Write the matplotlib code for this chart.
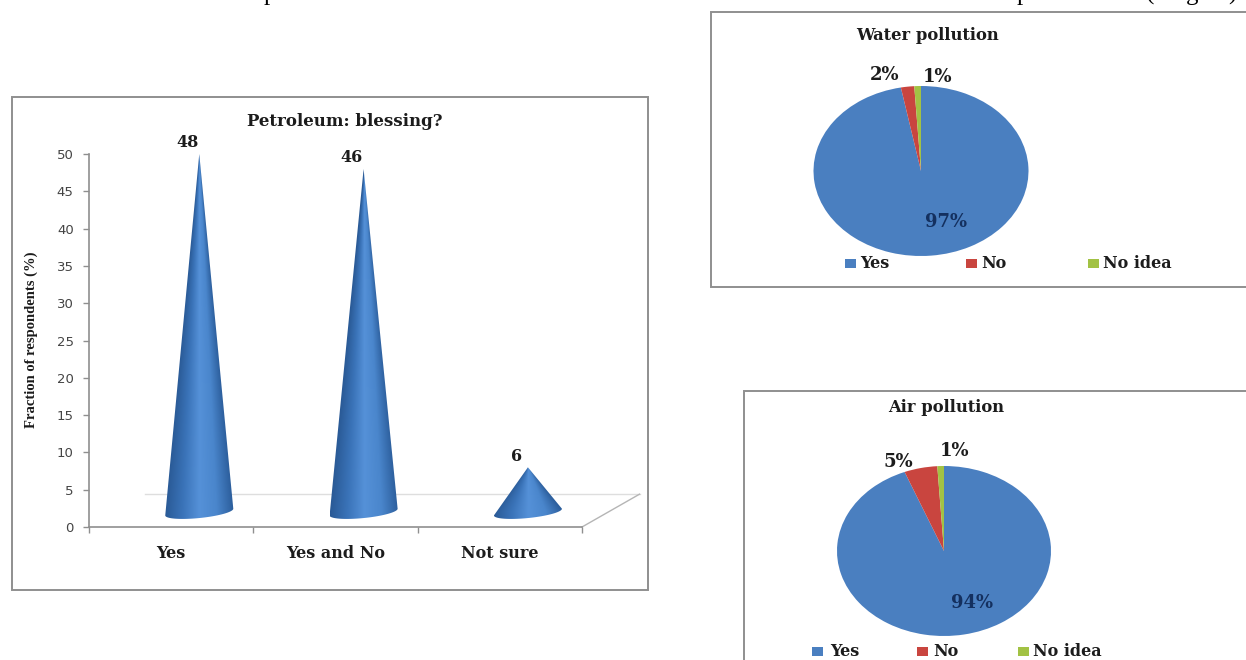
"""Survey figure: petroleum opinion cones with water and air pollution pies."""

import matplotlib

matplotlib.use("Agg")
import matplotlib.pyplot as plt
import numpy as np
from matplotlib.colors import LinearSegmentedColormap
from matplotlib.patches import Polygon, Rectangle

FIG_W, FIG_H = 1246, 660

categories = ["Yes", "Yes and No", "Not sure"]
blessing_values = [48, 46, 6]
y_ticks = [0, 5, 10, 15, 20, 25, 30, 35, 40, 45, 50]

pie_labels = ["Yes", "No", "No idea"]
water_values = [97, 2, 1]
air_values = [94, 5, 1]

PIE_COLORS = ["#4a7fc0", "#c9453f", "#a2c244"]
GREY = "#8f8f8f"
INK = "#1c1c1c"
SERIF_WIDE = "DejaVu Serif"
SERIF = "Liberation Serif"

cone_cmap = LinearSegmentedColormap.from_list(
    "cone", ["#2a5a96", "#3a73b8", "#5591d8", "#4a86cc", "#2c5e9c"]
)


def pixel_axes(fig, left, top, right, bottom):
    return fig.add_axes(
        [left / FIG_W, 1 - bottom / FIG_H, (right - left) / FIG_W, (bottom - top) / FIG_H]
    )


def draw_cone(ax, center, base, height, half_width, rim, tilt):
    t = np.linspace(np.pi, 2 * np.pi, 60)
    arc_x = center + half_width * np.cos(t)
    arc_y = base + rim * np.sin(t) + tilt * np.cos(t)
    outline = np.column_stack(
        [np.r_[center, arc_x], np.r_[base + height, arc_y]]
    )

    xs = np.linspace(center - half_width, center + half_width, 240)
    ys = np.linspace(base - rim - abs(tilt), base + height, 300)
    gx, gy = np.meshgrid(xs, ys)
    frac = np.clip((gy - base) / height, 0, 0.995)
    shade = np.clip((gx - center) / (half_width * (1 - frac)), -1, 1)
    image = ax.imshow(
        (shade + 1) / 2,
        extent=[xs[0], xs[-1], ys[0], ys[-1]],
        origin="lower",
        cmap=cone_cmap,
        vmin=0,
        vmax=1,
        aspect="auto",
        zorder=3,
    )
    patch = Polygon(outline, closed=True, facecolor="none", edgecolor="none", transform=ax.transData)
    ax.add_patch(patch)
    image.set_clip_path(patch)


def draw_pie(fig, values, center, rx, ry):
    ax = pixel_axes(fig, center[0] - rx, center[1] - ry, center[0] + rx, center[1] + ry)
    ax.pie(values, colors=PIE_COLORS, startangle=90, counterclock=False, radius=1.0)
    ax.set_aspect("auto")
    ax.set_xlim(-1, 1)
    ax.set_ylim(-1, 1)
    ax.patch.set_alpha(0)
    return ax


def draw_legend(page, xs, y):
    for (box_x, text_x), label, color in zip(xs, pie_labels, PIE_COLORS):
        page.add_patch(Rectangle((box_x - 5.5, y - 4.5), 11, 9, facecolor=color, edgecolor="none"))
        page.text(text_x, y, label, family=SERIF_WIDE, weight="bold", fontsize=11.5,
                  color=INK, ha="left", va="center")


fig = plt.figure(figsize=(FIG_W / 100, FIG_H / 100), dpi=100, facecolor="white")

# full-page layer in pixel coordinates for frames and free-standing text
page = fig.add_axes([0, 0, 1, 1])
page.set_xlim(0, FIG_W)
page.set_ylim(FIG_H, 0)
page.axis("off")

for x0, y0, x1, y1 in [(12, 97, 648, 590), (711, 12, 1252, 287), (744, 391, 1252, 668)]:
    page.add_patch(Rectangle((x0, y0), x1 - x0, y1 - y0, facecolor="white", edgecolor=GREY, linewidth=1.4))

# descenders of the running text cut off by the top edge
for x, s in [(270, "p"), (1023, "p"), (1150, "("), (1192, "g"), (1232, ")")]:
    page.text(x, 0, s, family=SERIF, fontsize=18, color="black", ha="center", va="baseline")

# cone chart
ax = pixel_axes(fig, 89, 154, 582, 527)
ax.set_xlim(0, len(categories))
ax.set_ylim(0, 50)
ax.patch.set_alpha(0)
for side in ["top", "right"]:
    ax.spines[side].set_visible(False)
for side in ["left", "bottom"]:
    ax.spines[side].set_color(GREY)
    ax.spines[side].set_linewidth(1.2)
ax.set_yticks(y_ticks)
ax.set_xticks(np.arange(len(categories) + 1))
ax.set_xticklabels([])
ax.tick_params(axis="both", which="major", color=GREY, length=4, width=1)
ax.tick_params(axis="y", labelsize=9.5, labelcolor="#444444", pad=7)
ax.set_xticks(np.arange(len(categories)) + 0.5, minor=True)
ax.set_xticklabels(categories, minor=True, family=SERIF_WIDE, weight="bold", fontsize=11.5, color=INK)
ax.tick_params(axis="x", which="minor", length=0, pad=13)

# floor of the 3-D plot: back edge and receding side
depth_x, depth_y = 0.171, 2.0
ax.plot([0.34, 3.35], [4.4, 4.4], color="#dedede", linewidth=1, clip_on=False, zorder=1)
ax.plot([3.0, 3.35], [0, 4.4], color="#b5b5b5", linewidth=1, clip_on=False, zorder=1)

for i, value in enumerate(blessing_values):
    cx = i + 0.5 + depth_x
    draw_cone(ax, cx, depth_y, value, 0.207, 0.8, 0.45)
    ax.annotate(str(value), (cx, depth_y + value), xytext=(-8.5, 8), textcoords="offset points",
                family=SERIF_WIDE, weight="bold", fontsize=11.5, color=INK, ha="center", va="center")
ax.set_xlim(0, len(categories))
ax.set_ylim(0, 50)

page.text(345, 121, "Petroleum: blessing?", family=SERIF_WIDE, weight="bold", fontsize=12, color=INK,
          ha="center", va="center")
page.text(31, 340, "Fraction of respondents (%)", family=SERIF, weight="bold", fontsize=10.5, color=INK,
          rotation=90, ha="center", va="center")

# water pollution pie
draw_pie(fig, water_values, (921, 171), 107.5, 85)
page.text(927, 35, "Water pollution", family=SERIF_WIDE, weight="bold", fontsize=11.8, color=INK,
          ha="center", va="center")
draw_legend(page, [(850, 860), (971, 981), (1093, 1103)], 263)

# air pollution pie
draw_pie(fig, air_values, (944, 551), 107, 85)
page.text(946, 407, "Air pollution", family=SERIF_WIDE, weight="bold", fontsize=11.8, color=INK,
          ha="center", va="center")
draw_legend(page, [(817, 830), (922, 933), (1023, 1033)], 651)

# percentage labels sit above the pie layers
top = fig.add_axes([0, 0, 1, 1])
top.set_xlim(0, FIG_W)
top.set_ylim(FIG_H, 0)
top.axis("off")
for value, x, y, color in [
    (water_values[0], 946, 222, "#14305f"),
    (water_values[1], 885, 75, INK),
    (water_values[2], 938, 77, INK),
    (air_values[0], 972, 603, "#14305f"),
    (air_values[1], 898, 462, INK),
    (air_values[2], 955, 451, INK),
]:
    top.text(x, y, f"{value}%", family=SERIF_WIDE, weight="bold", fontsize=13, color=color,
             ha="center", va="center")

fig.savefig("out.png", dpi=100)
plt.close(fig)
